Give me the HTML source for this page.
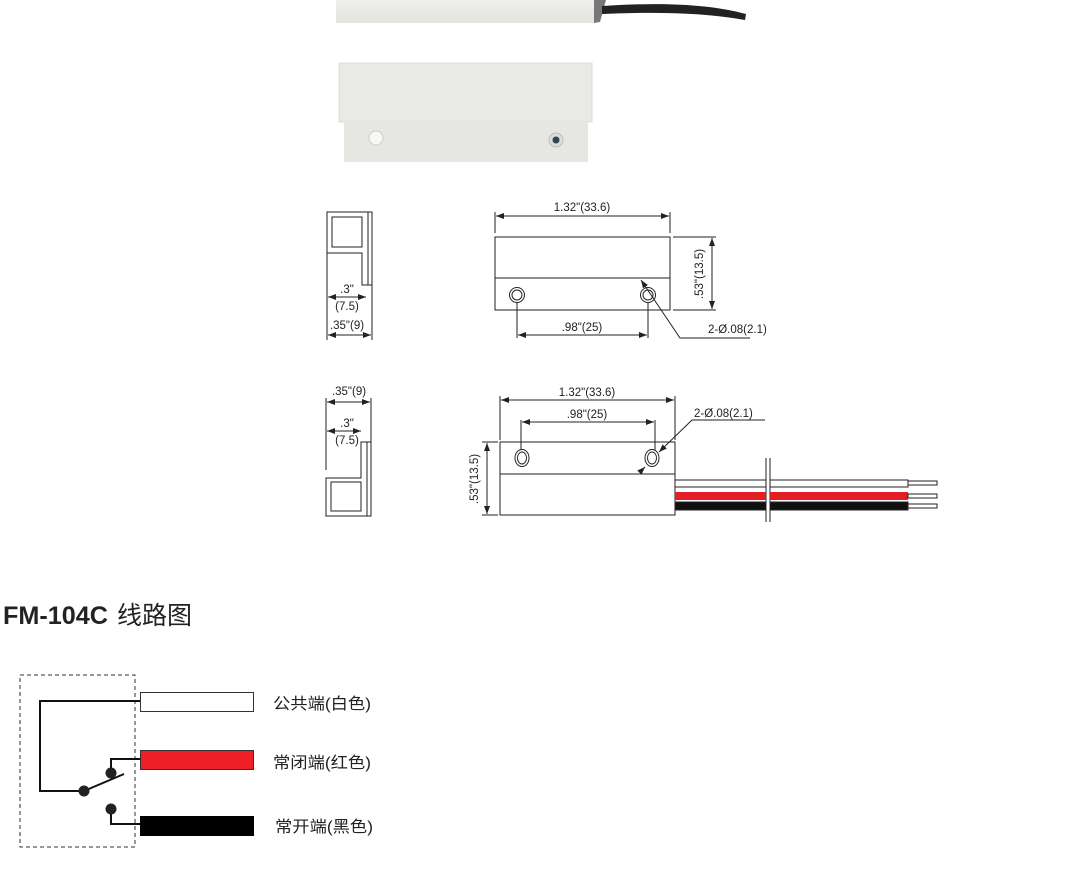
<!DOCTYPE html>
<html><head><meta charset="utf-8"><style>
html,body{margin:0;padding:0;background:#fff;width:1067px;height:880px;overflow:hidden}
svg{display:block}
text{font-family:"Liberation Sans","Noto Sans CJK SC",sans-serif;fill:#222}
</style></head><body>
<svg width="1067" height="880" viewBox="0 0 1067 880" xmlns="http://www.w3.org/2000/svg">
<defs>
<marker id="a" markerWidth="8" markerHeight="6" refX="8" refY="3" orient="auto-start-reverse" markerUnits="userSpaceOnUse"><path d="M0,0 L8,3 L0,6z" fill="#222"/></marker>
<linearGradient id="g1" x1="0" y1="0" x2="0" y2="1"><stop offset="0" stop-color="#f0f0ed"/><stop offset="1" stop-color="#e2e2de"/></linearGradient>
</defs>
<!-- photo -->
<rect x="336" y="0" width="258" height="23" fill="url(#g1)"/>
<path d="M594,0 L606,0 L600,22 L594,23z" fill="#777"/>
<path d="M602,6 C660,2 710,4 746,14 L745,20 C700,12 650,12 602,14z" fill="#222"/>
<rect x="339" y="63" width="253" height="59" fill="#e9e9e5" stroke="#ddd"/>
<rect x="344" y="122" width="244" height="40" fill="#e6e6e2"/>
<circle cx="376" cy="138" r="7" fill="#f7f7f5" stroke="#ccc"/>
<circle cx="556" cy="140" r="7" fill="#ddd" stroke="#bbb"/><circle cx="556" cy="140" r="3.5" fill="#345"/>
<g stroke="#222" fill="none" stroke-width="1">
<path d="M327,212 H372 V285 H362 V253 H327 Z"/>
<path d="M368,212 V285"/>
<rect x="332" y="217" width="30" height="30"/>
<path d="M327,253 V340 M372,285 V340"/>
<path d="M328,297 H366" marker-start="url(#a)" marker-end="url(#a)"/>
<path d="M328,335 H371" marker-start="url(#a)" marker-end="url(#a)"/>
<rect x="495" y="237" width="175" height="73"/>
<path d="M495,278 H670"/>
<circle cx="517" cy="295" r="7.5"/><circle cx="517" cy="295" r="5"/>
<circle cx="648" cy="295" r="7.5"/><circle cx="648" cy="295" r="5"/>
<path d="M495,212 V233 M670,212 V233"/>
<path d="M496,216 H669" marker-start="url(#a)" marker-end="url(#a)"/>
<path d="M673,237 H716 M673,310 H716"/>
<path d="M712,238 V309" marker-start="url(#a)" marker-end="url(#a)"/>
<path d="M517,303 V338 M648,303 V338"/>
<path d="M518,335 H647" marker-start="url(#a)" marker-end="url(#a)"/>
<path d="M750,338 H680 L641,280" marker-end="url(#a)"/>
<path d="M326,516 H371 V442 H361 V478 H326 Z"/>
<path d="M367,442 V516"/>
<rect x="331" y="482" width="30" height="29"/>
<path d="M326,398 V470 M371,398 V442"/>
<path d="M327,402 H370" marker-start="url(#a)" marker-end="url(#a)"/>
<path d="M327,431 H361" marker-start="url(#a)" marker-end="url(#a)"/>
<rect x="500" y="442" width="175" height="73"/>
<path d="M500,474 H675"/>
<ellipse cx="522" cy="458" rx="7" ry="8.5"/><ellipse cx="522" cy="458" rx="4.5" ry="6"/>
<ellipse cx="652" cy="458" rx="7" ry="8.5"/><ellipse cx="652" cy="458" rx="4.5" ry="6"/>
<path d="M500,396 V440 M675,396 V440"/>
<path d="M501,400 H674" marker-start="url(#a)" marker-end="url(#a)"/>
<path d="M521,420 V450 M655,420 V450"/>
<path d="M522,422 H654" marker-start="url(#a)" marker-end="url(#a)"/>
<path d="M482,442 H498 M482,515 H498"/>
<path d="M487,443 V514" marker-start="url(#a)" marker-end="url(#a)"/>
<path d="M765,420 H692 L659,452" marker-end="url(#a)"/>
<path d="M640,472 L645,467" marker-end="url(#a)"/>
<path d="M766,458 V522 M770,458 V522"/>
</g>
<g stroke="#222" stroke-width="1">
<rect x="675" y="480" width="91" height="7" fill="#fff"/>
<rect x="770" y="480" width="138" height="7" fill="#fff"/>
<rect x="675" y="492" width="91" height="8" fill="#e31e24" stroke="none"/>
<rect x="770" y="492" width="138" height="8" fill="#e31e24" stroke="none"/>
<rect x="675" y="502" width="91" height="8" fill="#111"/>
<rect x="770" y="502" width="138" height="8" fill="#111"/>
<rect x="908" y="481" width="29" height="4" fill="#fff"/>
<rect x="908" y="494" width="29" height="4" fill="#fff"/>
<rect x="908" y="504" width="29" height="4" fill="#fff"/>
</g>
<g font-size="11.5" text-anchor="middle">
<text x="582" y="211">1.32"(33.6)</text>
<text x="582" y="331">.98"(25)</text>
<text x="708" y="333" text-anchor="start">2-Ø.08(2.1)</text>
<text transform="translate(703,274) rotate(-90)">.53"(13.5)</text>
<text x="347" y="293">.3"</text>
<text x="347" y="310">(7.5)</text>
<text x="347" y="329">.35"(9)</text>
<text x="349" y="395">.35"(9)</text>
<text x="347" y="427">.3"</text>
<text x="347" y="444">(7.5)</text>
<text x="587" y="396">1.32"(33.6)</text>
<text x="587" y="418">.98"(25)</text>
<text x="694" y="417" text-anchor="start">2-Ø.08(2.1)</text>
<text transform="translate(478,479) rotate(-90)">.53"(13.5)</text>
</g>
<text x="3" y="624" font-size="25" font-weight="bold" fill="#222" textLength="105" lengthAdjust="spacingAndGlyphs">FM-104C</text>
<text x="117" y="624" font-size="25" fill="#222">线路图</text>
<rect x="20" y="675" width="115" height="172" fill="none" stroke="#333" stroke-dasharray="4,3"/>
<g stroke="#111" stroke-width="2" fill="none">
<path d="M140,701 H40 V791 H84"/>
<path d="M84,791 L124,774"/>
<path d="M111,773 V759 H140"/>
<path d="M111,810 V824 H140"/>
</g>
<circle cx="84" cy="791" r="5.5" fill="#222"/>
<circle cx="111" cy="773" r="5.5" fill="#222"/>
<circle cx="111" cy="809" r="5.5" fill="#222"/>
<rect x="140.5" y="692.5" width="113" height="19" fill="#fff" stroke="#333"/>
<rect x="140.5" y="750.5" width="113" height="19" fill="#ee1f25" stroke="#333"/>
<rect x="140" y="816" width="114" height="20" fill="#000"/>
<g font-size="16">
<text x="273" y="709" textLength="98" lengthAdjust="spacingAndGlyphs">公共端(白色)</text>
<text x="273" y="768" textLength="98" lengthAdjust="spacingAndGlyphs">常闭端(红色)</text>
<text x="275" y="832" textLength="98" lengthAdjust="spacingAndGlyphs">常开端(黑色)</text>
</g>
</svg>
</body></html>
